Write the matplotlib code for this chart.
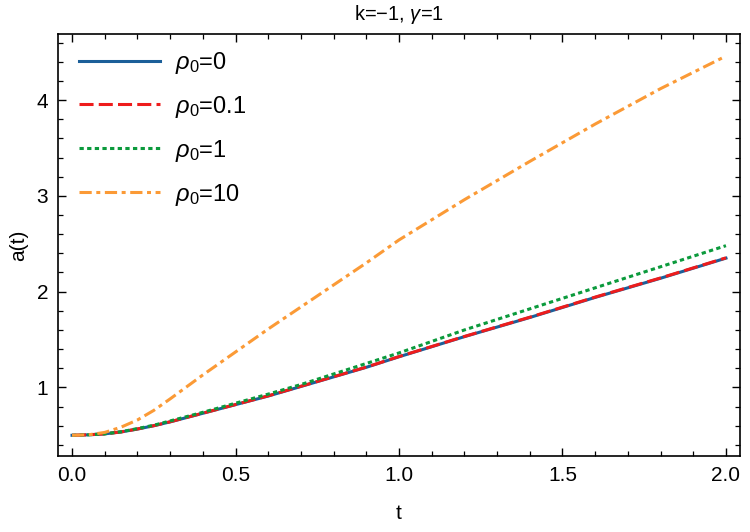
import numpy as np
import matplotlib.pyplot as plt
from matplotlib.ticker import MultipleLocator

plt.rcParams['font.family'] = ['Liberation Sans', 'DejaVu Sans']
plt.rcParams['mathtext.fontset'] = 'custom'
plt.rcParams['mathtext.rm'] = 'Liberation Sans'
plt.rcParams['mathtext.it'] = 'Liberation Sans:italic'

# values
t = [0, 0.05, 0.1, 0.15, 0.2, 0.25, 0.3, 0.4, 0.5, 0.6, 0.7, 0.8, 0.9, 1.0, 1.2, 1.4, 1.6, 1.8, 2.0]
a_rho0 = [0.50, 0.505, 0.515, 0.535, 0.565, 0.60, 0.64, 0.73, 0.82, 0.91, 1.01, 1.11, 1.21, 1.32, 1.53, 1.73, 1.94, 2.14, 2.35]
a_rho01 = [0.50, 0.505, 0.515, 0.535, 0.566, 0.60, 0.641, 0.731, 0.821, 0.912, 1.012, 1.112, 1.212, 1.322, 1.532, 1.733, 1.943, 2.143, 2.353]
a_rho1 = [0.50, 0.505, 0.515, 0.537, 0.57, 0.605, 0.65, 0.74, 0.835, 0.93, 1.03, 1.14, 1.25, 1.36, 1.60, 1.82, 2.04, 2.26, 2.48]
a_rho10 = [0.50, 0.505, 0.53, 0.585, 0.66, 0.76, 0.88, 1.13, 1.37, 1.61, 1.84, 2.07, 2.30, 2.54, 2.96, 3.36, 3.75, 4.12, 4.46]

labels = [r'$\rho_0$=0', r'$\rho_0$=0.1', r'$\rho_0$=1', r'$\rho_0$=10']
colors = ['#1c5f99', '#ee1c1c', '#0b9a3c', '#fb9a36']

fig = plt.figure(figsize=(7.5, 5.32), dpi=100)
ax = fig.add_axes([0.0773, 0.1429, 0.9094, 0.7931])

lw = 2.2
ax.plot(t, a_rho0, color=colors[0], lw=lw, label=labels[0])
ax.plot(t, a_rho01, color=colors[1], lw=lw, dashes=(4.6, 1.7), label=labels[1])
ax.plot(t, a_rho1, color=colors[2], lw=lw, dashes=(1.4, 1.1), label=labels[2])
ax.plot(t, a_rho10, color=colors[3], lw=lw, dashes=(4.0, 1.5, 1.3, 1.5), label=labels[3])

ax.set_xlim(-0.043, 2.043)
ax.set_ylim(0.284, 4.69)
ax.xaxis.set_major_locator(MultipleLocator(0.5))
ax.xaxis.set_minor_locator(MultipleLocator(0.1))
ax.yaxis.set_major_locator(MultipleLocator(1))
ax.yaxis.set_minor_locator(MultipleLocator(0.2))
ax.xaxis.set_major_formatter(plt.FuncFormatter(lambda v, p: f'{v:.1f}'))
ax.yaxis.set_major_formatter(plt.FuncFormatter(lambda v, p: f'{v:.0f}'))

ax.tick_params(which='both', direction='in', labelsize=15, colors='black', pad=7)
ax.tick_params(which='major', length=6, width=1.0)
ax.tick_params(which='minor', length=3.5, width=0.9)
ax.tick_params(which='both', top=True, right=True, labeltop=False, labelright=False)
for s in ax.spines.values():
    s.set_linewidth(1.2)

ax.set_xlabel('t', fontsize=15, labelpad=14)
ax.set_ylabel('a(t)', fontsize=15, labelpad=6)
ax.set_title('k=\u22121, $\\gamma$=1', fontsize=14.5, pad=10)

ax.legend(loc='upper left', bbox_to_anchor=(0.0, 1.013), frameon=False, fontsize=17,
          handlelength=3.4, handletextpad=0.65, labelspacing=0.76, borderaxespad=0.5)

fig.savefig('out.png', dpi=100)
